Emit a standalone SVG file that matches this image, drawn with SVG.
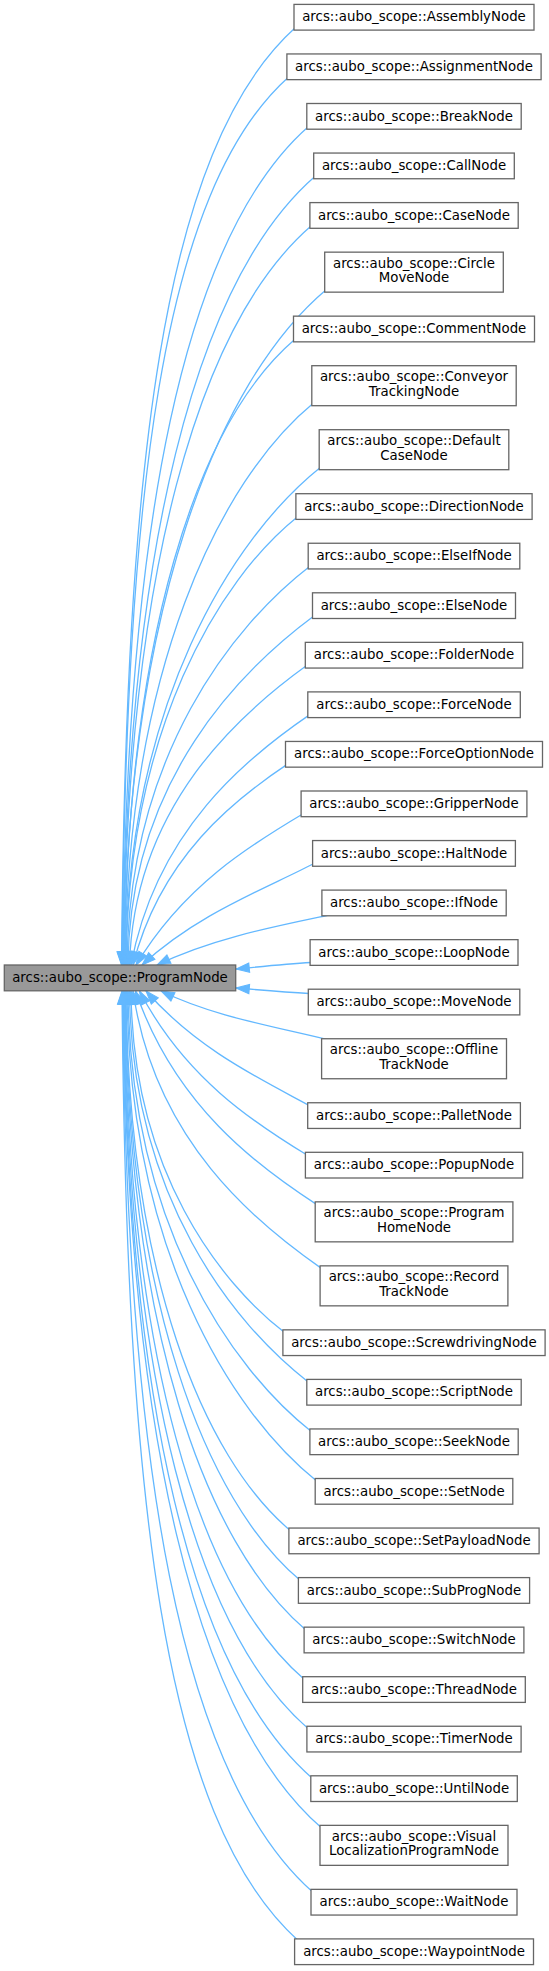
<svg xmlns="http://www.w3.org/2000/svg" width="549" height="1971" viewBox="0 0 549 1971">
<style>
.n rect{fill:#ffffff;stroke:#666666;stroke-width:1.3}
.root rect{fill:#999999;stroke:#666666;stroke-width:1.3}
text{font-family:"DejaVu Sans",sans-serif;font-size:13.33px;fill:#000000;text-anchor:middle}
.e{fill:none;stroke:#63b8ff;stroke-width:1.3;marker-end:url(#ah)}
</style>
<defs>
<marker id="ah" markerUnits="userSpaceOnUse" orient="auto" refX="0" refY="0" markerWidth="20" markerHeight="20" overflow="visible">
<polygon points="0,0 -13.3,-4.67 -13.3,4.67" fill="#63b8ff" stroke="#63b8ff" stroke-width="1"/>
</marker>
</defs>
<rect width="549" height="1971" fill="#ffffff"/>
<g id="edges">
<path class="e" d="M296,27.1 C160.9,148 125.8,468.9 121.5,965"/>
<path class="e" d="M288.9,76.65 C160.9,191.1 126.1,495 122,965"/>
<path class="e" d="M308.8,126.2 C183.9,235.8 126.4,522.2 122.5,965"/>
<path class="e" d="M315.7,175.75 C195.4,280 126.6,549.2 123,965"/>
<path class="e" d="M311.9,225.3 C197.7,323.5 126.9,575.6 123.5,965"/>
<path class="e" d="M326.7,289.15 C217.1,381.1 127.1,610.2 124,965"/>
<path class="e" d="M295.5,338.85 C196.9,422.8 127.4,635.8 124.5,965"/>
<path class="e" d="M313.8,402.7 C219,480.6 127.6,670.1 125,965"/>
<path class="e" d="M321.2,466.7 C231.9,537.9 127.8,703.5 125.5,965"/>
<path class="e" d="M297.9,516.4 C218.4,580.1 128.1,729.6 126,965"/>
<path class="e" d="M310.2,565.95 C233.5,625 128.8,754.8 127,965"/>
<path class="e" d="M314.5,615.5 C242,669.3 129.6,779.4 128,965"/>
<path class="e" d="M307.3,665.05 C241.2,712.7 134.3,804.5 129.5,965"/>
<path class="e" d="M309.8,714.6 C247.7,757 156.2,830.1 131,965"/>
<path class="e" d="M287.5,764.15 C235,799.2 160.3,857 133,965"/>
<path class="e" d="M303.1,813.7 C250.4,845 183.4,885.9 136,965"/>
<path class="e" d="M314.6,863.25 C261.5,890.5 197.1,914.3 142,965"/>
<path class="e" d="M334,914 C274.5,926.6 211.6,938.4 157,965"/>
<path class="e" d="M311,962.5 C286,964 261,966.5 236,969"/>
<path class="e" d="M309,993.5 C284,992 260,990 236,988"/>
<path class="e" d="M333,1041 C275.7,1026.7 214.1,1016.9 161,991"/>
<path class="e" d="M309.7,1105.75 C259.2,1078.3 197.1,1049.1 146,991"/>
<path class="e" d="M307.4,1155.3 C253.8,1122.7 184.6,1077.6 139.5,991"/>
<path class="e" d="M317.2,1204.85 C257.1,1166 174.9,1105.5 135.5,991"/>
<path class="e" d="M322.1,1268.85 C255.4,1222.6 154.8,1140.6 133,991"/>
<path class="e" d="M284.9,1332.85 C219.8,1282.5 132.6,1171 131,991"/>
<path class="e" d="M308.8,1382.4 C233.7,1324.5 131.3,1197.2 129.5,991"/>
<path class="e" d="M311.9,1431.95 C230.8,1368.2 130,1222.7 128,991"/>
<path class="e" d="M317.2,1481.5 C229.8,1411.6 129.2,1248.4 127,991"/>
<path class="e" d="M290.9,1531.05 C202.8,1457.4 128.5,1274.5 126,991"/>
<path class="e" d="M300.4,1580.6 C205.2,1500.6 128.2,1300.6 125.5,991"/>
<path class="e" d="M306.1,1630.15 C204.4,1544 127.9,1326.8 125,991"/>
<path class="e" d="M304.7,1679.7 C197.6,1588 127.7,1353.4 124.5,991"/>
<path class="e" d="M308.9,1729.25 C195.4,1631.5 127.4,1379.7 124,991"/>
<path class="e" d="M312.8,1778.8 C193.1,1674.9 127.1,1406.1 123.5,991"/>
<path class="e" d="M322,1828.35 C195.1,1718.1 126.9,1432.4 123,991"/>
<path class="e" d="M313,1892.35 C180.3,1775.3 126.7,1467.5 122.5,991"/>
<path class="e" d="M298.6,1940.9 C161.8,1818.4 126.4,1493.4 122,991"/>
</g>
<g id="ProgramNode" class="root"><rect x="4.3" y="965" width="231.4" height="25.8"/><text x="120" y="982">arcs::aubo_scope::ProgramNode</text></g>
<g id="AssemblyNode" class="n"><rect x="294" y="4.4" width="240" height="25.7"/><text x="414" y="21.4">arcs::aubo_scope::AssemblyNode</text></g>
<g id="AssignmentNode" class="n"><rect x="286.9" y="53.95" width="254.2" height="25.7"/><text x="414" y="70.95">arcs::aubo_scope::AssignmentNode</text></g>
<g id="BreakNode" class="n"><rect x="306.8" y="103.5" width="214.4" height="25.7"/><text x="414" y="120.5">arcs::aubo_scope::BreakNode</text></g>
<g id="CallNode" class="n"><rect x="313.7" y="153.05" width="200.6" height="25.7"/><text x="414" y="170.05">arcs::aubo_scope::CallNode</text></g>
<g id="CaseNode" class="n"><rect x="309.9" y="202.6" width="208.3" height="25.7"/><text x="414" y="219.6">arcs::aubo_scope::CaseNode</text></g>
<g id="CircleMoveNode" class="n"><rect x="324.7" y="252.15" width="178.6" height="40"/><text x="414" y="267.65">arcs::aubo_scope::Circle</text><text x="414" y="282.15">MoveNode</text></g>
<g id="CommentNode" class="n"><rect x="293.5" y="316.15" width="241" height="25.7"/><text x="414" y="333.15">arcs::aubo_scope::CommentNode</text></g>
<g id="ConveyorTrackingNode" class="n"><rect x="311.8" y="365.7" width="204.4" height="40"/><text x="414" y="381.2">arcs::aubo_scope::Conveyor</text><text x="414" y="395.7">TrackingNode</text></g>
<g id="DefaultCaseNode" class="n"><rect x="319.2" y="429.7" width="189.6" height="40"/><text x="414" y="445.2">arcs::aubo_scope::Default</text><text x="414" y="459.7">CaseNode</text></g>
<g id="DirectionNode" class="n"><rect x="295.9" y="493.7" width="236.2" height="25.7"/><text x="414" y="510.7">arcs::aubo_scope::DirectionNode</text></g>
<g id="ElseIfNode" class="n"><rect x="308.2" y="543.25" width="211.6" height="25.7"/><text x="414" y="560.25">arcs::aubo_scope::ElseIfNode</text></g>
<g id="ElseNode" class="n"><rect x="312.5" y="592.8" width="203" height="25.7"/><text x="414" y="609.8">arcs::aubo_scope::ElseNode</text></g>
<g id="FolderNode" class="n"><rect x="305.3" y="642.35" width="217.4" height="25.7"/><text x="414" y="659.35">arcs::aubo_scope::FolderNode</text></g>
<g id="ForceNode" class="n"><rect x="307.8" y="691.9" width="212.5" height="25.7"/><text x="414" y="708.9">arcs::aubo_scope::ForceNode</text></g>
<g id="ForceOptionNode" class="n"><rect x="285.5" y="741.45" width="257" height="25.7"/><text x="414" y="758.45">arcs::aubo_scope::ForceOptionNode</text></g>
<g id="GripperNode" class="n"><rect x="301.1" y="791" width="225.8" height="25.7"/><text x="414" y="808">arcs::aubo_scope::GripperNode</text></g>
<g id="HaltNode" class="n"><rect x="312.6" y="840.55" width="202.8" height="25.7"/><text x="414" y="857.55">arcs::aubo_scope::HaltNode</text></g>
<g id="IfNode" class="n"><rect x="321.9" y="890.1" width="184.3" height="25.7"/><text x="414" y="907.1">arcs::aubo_scope::IfNode</text></g>
<g id="LoopNode" class="n"><rect x="310.1" y="939.65" width="207.9" height="25.7"/><text x="414" y="956.65">arcs::aubo_scope::LoopNode</text></g>
<g id="MoveNode" class="n"><rect x="308.3" y="989.2" width="211.5" height="25.7"/><text x="414" y="1006.2">arcs::aubo_scope::MoveNode</text></g>
<g id="OfflineTrackNode" class="n"><rect x="321.6" y="1038.75" width="184.9" height="40"/><text x="414" y="1054.25">arcs::aubo_scope::Offline</text><text x="414" y="1068.75">TrackNode</text></g>
<g id="PalletNode" class="n"><rect x="307.7" y="1102.75" width="212.7" height="25.7"/><text x="414" y="1119.75">arcs::aubo_scope::PalletNode</text></g>
<g id="PopupNode" class="n"><rect x="305.4" y="1152.3" width="217.3" height="25.7"/><text x="414" y="1169.3">arcs::aubo_scope::PopupNode</text></g>
<g id="ProgramHomeNode" class="n"><rect x="315.2" y="1201.85" width="197.7" height="40"/><text x="414" y="1217.35">arcs::aubo_scope::Program</text><text x="414" y="1231.85">HomeNode</text></g>
<g id="RecordTrackNode" class="n"><rect x="320.1" y="1265.85" width="187.8" height="40"/><text x="414" y="1281.35">arcs::aubo_scope::Record</text><text x="414" y="1295.85">TrackNode</text></g>
<g id="ScrewdrivingNode" class="n"><rect x="282.9" y="1329.85" width="262.2" height="25.7"/><text x="414" y="1346.85">arcs::aubo_scope::ScrewdrivingNode</text></g>
<g id="ScriptNode" class="n"><rect x="306.8" y="1379.4" width="214.4" height="25.7"/><text x="414" y="1396.4">arcs::aubo_scope::ScriptNode</text></g>
<g id="SeekNode" class="n"><rect x="309.9" y="1428.95" width="208.3" height="25.7"/><text x="414" y="1445.95">arcs::aubo_scope::SeekNode</text></g>
<g id="SetNode" class="n"><rect x="315.2" y="1478.5" width="197.6" height="25.7"/><text x="414" y="1495.5">arcs::aubo_scope::SetNode</text></g>
<g id="SetPayloadNode" class="n"><rect x="288.9" y="1528.05" width="250.2" height="25.7"/><text x="414" y="1545.05">arcs::aubo_scope::SetPayloadNode</text></g>
<g id="SubProgNode" class="n"><rect x="298.4" y="1577.6" width="231.2" height="25.7"/><text x="414" y="1594.6">arcs::aubo_scope::SubProgNode</text></g>
<g id="SwitchNode" class="n"><rect x="304.1" y="1627.15" width="219.8" height="25.7"/><text x="414" y="1644.15">arcs::aubo_scope::SwitchNode</text></g>
<g id="ThreadNode" class="n"><rect x="302.7" y="1676.7" width="222.6" height="25.7"/><text x="414" y="1693.7">arcs::aubo_scope::ThreadNode</text></g>
<g id="TimerNode" class="n"><rect x="306.9" y="1726.25" width="214.2" height="25.7"/><text x="414" y="1743.25">arcs::aubo_scope::TimerNode</text></g>
<g id="UntilNode" class="n"><rect x="310.8" y="1775.8" width="206.5" height="25.7"/><text x="414" y="1792.8">arcs::aubo_scope::UntilNode</text></g>
<g id="VisualLocalizationProgramNode" class="n"><rect x="320" y="1825.35" width="188" height="40"/><text x="414" y="1840.85">arcs::aubo_scope::Visual</text><text x="414" y="1855.35">LocalizationProgramNode</text></g>
<g id="WaitNode" class="n"><rect x="311" y="1889.35" width="206" height="25.7"/><text x="414" y="1906.35">arcs::aubo_scope::WaitNode</text></g>
<g id="WaypointNode" class="n"><rect x="294.6" y="1938.9" width="238.9" height="25.7"/><text x="414" y="1955.9">arcs::aubo_scope::WaypointNode</text></g>
</svg>
